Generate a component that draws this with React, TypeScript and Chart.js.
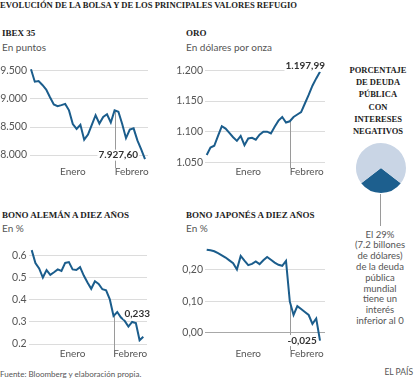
import React, { useEffect, useRef } from "react";
import { Chart, registerables } from "chart.js";
Chart.register(...registerables);

// ---------- DATA ----------
const MONTH_LABELS = ["Enero", "Febrero"];
const MONTH_TICK_INDEX = [11, 26.5];
const MARKER_INDEX = 22;

const IBEX_VALUES = [9530, 9308, 9320, 9250, 9169, 9030, 8902, 8872, 8890, 8912, 8797, 8553, 8466, 8541, 8274, 8366, 8540, 8710, 8563, 8680, 8727, 8581, 8797, 8773, 8553, 8302, 8453, 8476, 8262, 8100, 7927.6];
const IBEX_TICKS = [8000, 8500, 9000, 9500];
const IBEX_TICK_LABELS = ["8.000", "8.500", "9.000", "9.500"];

const GOLD_VALUES = [1062, 1074, 1077, 1093, 1109, 1105, 1098, 1091, 1085, 1093, 1078, 1089, 1090, 1087, 1095, 1100, 1100, 1097, 1108, 1118, 1124, 1115, 1117, 1124, 1128, 1132, 1146, 1160, 1175, 1187, 1197.99];
const GOLD_TICKS = [1050, 1100, 1150, 1200];
const GOLD_TICK_LABELS = ["1.050", "1.100", "1.150", "1.200"];

const BUND_VALUES = [0.625, 0.567, 0.542, 0.501, 0.535, 0.513, 0.525, 0.538, 0.531, 0.567, 0.571, 0.538, 0.535, 0.548, 0.51, 0.479, 0.45, 0.484, 0.472, 0.448, 0.443, 0.402, 0.327, 0.345, 0.32, 0.305, 0.279, 0.3, 0.295, 0.217, 0.233];
const BUND_TICKS = [0.2, 0.3, 0.4, 0.5, 0.6];
const BUND_TICK_LABELS = ["0.2", "0.3", "0.4", "0.5", "0.6"];

const JGB_VALUES = [0.263, 0.261, 0.258, 0.252, 0.245, 0.238, 0.229, 0.22, 0.2, 0.243, 0.228, 0.214, 0.218, 0.2255, 0.217, 0.2295, 0.24, 0.231, 0.222, 0.215, 0.212, 0.2277, 0.099, 0.056, 0.084, 0.075, 0.0655, 0.056, 0.028, 0.045, -0.025];
const JGB_TICKS = [0, 0.1, 0.2];
const JGB_TICK_LABELS = ["0,00", "0,10", "0,20"];

const PIE_VALUES = [29, 71];

// ---------- STYLE ----------
const BLUE = "#1b5d8c";
const PIE_DARK = "#1d5f8e";
const PIE_LIGHT = "#c9d5e5";
const GRID = "#dcdcdc";
const TICK_COLOR = "#555";
const SANS = "Lato, 'Open Sans', sans-serif";
const SERIF = "'Liberation Serif', 'DejaVu Serif', serif";

function fmtEs(v: number, dec: number): string {
  const neg = v < 0;
  const s = Math.abs(v).toFixed(dec);
  const [ip, dp] = s.split(".");
  const withDots = ip.replace(/\B(?=(\d{3})+(?!\d))/g, ".");
  return (neg ? "-" : "") + withDots + (dp ? "," + dp : "");
}

type PanelCfg = {
  rect: { left: number; top: number; w: number; h: number };
  areaLeft: number;
  areaRight: number;
  dataStartPx: number;
  dataEndPx: number;
  tickA: [number, number];
  tickB: [number, number];
  yMin: number;
  yMax: number;
  values: number[];
  ticks: number[];
  tickLabels: string[];
  tickPadding: number;
  monthLabelY: number;
  endLabel: string;
  labelDx: number;
  labelDy: number;
  zeroLine?: boolean;
};

function LinePanel({ cfg }: { cfg: PanelCfg }) {
  const ref = useRef<HTMLCanvasElement | null>(null);
  useEffect(() => {
    if (!ref.current) return;
    const { rect, values } = cfg;
    const n = values.length;
    const k = (cfg.tickB[1] - cfg.tickA[1]) / (cfg.tickB[0] - cfg.tickA[0]);
    const areaTop = cfg.tickA[1] + (cfg.yMax - cfg.tickA[0]) * k;
    const areaBottom = cfg.tickA[1] + (cfg.yMin - cfg.tickA[0]) * k;
    const s = (cfg.dataEndPx - cfg.dataStartPx) / (n - 1);
    const xMin = -(cfg.dataStartPx - cfg.areaLeft) / s;
    const xMax = n - 1 + (cfg.areaRight - cfg.dataEndPx) / s;

    const overlay = {
      id: "overlay",
      beforeDatasetsDraw(chart: any) {
        const { ctx, scales } = chart;
        const px = Math.round(scales.x.getPixelForValue(MARKER_INDEX)) + 0.5;
        const py = scales.y.getPixelForValue(values[MARKER_INDEX]);
        ctx.save();
        ctx.strokeStyle = "#9a9a9a";
        ctx.lineWidth = 1;
        ctx.beginPath();
        ctx.moveTo(px, py);
        ctx.lineTo(px, cfg.monthLabelY - 4 - rect.top);
        ctx.stroke();
        ctx.restore();
      },
      afterDatasetsDraw(chart: any) {
        const { ctx, scales } = chart;
        const ex = scales.x.getPixelForValue(n - 1);
        const ey = scales.y.getPixelForValue(values[n - 1]);
        const right = ex + cfg.labelDx;
        const cy = ey + cfg.labelDy;
        ctx.save();
        ctx.font = `bold 10px ${SANS}`;
        const w = ctx.measureText(cfg.endLabel).width;
        ctx.fillStyle = "#fff";
        ctx.fillRect(right - w - 1, cy - 5.5, w + 2, 11);
        ctx.fillStyle = "#333";
        ctx.textAlign = "right";
        ctx.textBaseline = "middle";
        ctx.fillText(cfg.endLabel, right, cy);
        ctx.restore();
      },
    };

    const chart = new Chart(ref.current, {
      type: "line",
      data: {
        datasets: [
          {
            data: values.map((v, i) => ({ x: i, y: v })),
            borderColor: BLUE,
            borderWidth: 2,
            pointRadius: 0,
            tension: 0,
            fill: false,
          },
        ],
      },
      options: {
        animation: false,
        responsive: false,
        layout: {
          padding: {
            top: areaTop - rect.top,
            right: rect.left + rect.w - cfg.areaRight,
            left: 0,
            bottom: 0,
          },
        },
        plugins: { legend: { display: false }, tooltip: { enabled: false } },
        scales: {
          x: {
            type: "linear",
            min: xMin,
            max: xMax,
            grid: { display: false, drawTicks: false, tickLength: 0 },
            border: { display: false },
            afterFit: (sc: any) => {
              sc.height = rect.top + rect.h - areaBottom;
            },
            afterBuildTicks: (sc: any) => {
              sc.ticks = MONTH_TICK_INDEX.map((v) => ({ value: v }));
            },
            ticks: {
              autoSkip: false,
              maxRotation: 0,
              padding: cfg.monthLabelY - areaBottom - 6,
              color: TICK_COLOR,
              font: { family: SANS, size: 10 },
              callback: (_v: any, i: number) => MONTH_LABELS[i],
            },
          },
          y: {
            type: "linear",
            min: cfg.yMin,
            max: cfg.yMax,
            border: { display: false },
            grid: {
              drawTicks: false,
              tickLength: 0,
              lineWidth: 1,
              color: (c: any) =>
                cfg.zeroLine && c.tick && Math.abs(c.tick.value) < 1e-9 ? "#a8a8a8" : GRID,
            },
            afterFit: (sc: any) => {
              sc.width = cfg.areaLeft - rect.left;
            },
            afterBuildTicks: (sc: any) => {
              sc.ticks = cfg.ticks.map((v) => ({ value: v }));
            },
            ticks: {
              padding: cfg.tickPadding,
              color: TICK_COLOR,
              font: { family: SANS, size: 10.5 },
              callback: (_v: any, i: number) => cfg.tickLabels[i],
            },
          },
        },
      } as any,
      plugins: [overlay],
    });
    return () => chart.destroy();
  }, [cfg]);
  return (
    <canvas
      ref={ref}
      width={cfg.rect.w}
      height={cfg.rect.h}
      style={{
        position: "absolute",
        left: cfg.rect.left,
        top: cfg.rect.top,
        width: cfg.rect.w,
        height: cfg.rect.h,
      }}
    />
  );
}

function PiePanel() {
  const ref = useRef<HTMLCanvasElement | null>(null);
  useEffect(() => {
    if (!ref.current) return;
    const chart = new Chart(ref.current, {
      type: "pie",
      data: {
        labels: ["Negativo", "Resto"],
        datasets: [
          {
            data: PIE_VALUES,
            backgroundColor: [PIE_DARK, PIE_LIGHT],
            borderWidth: 0,
          },
        ],
      },
      options: {
        animation: false,
        responsive: false,
        rotation: 180 - (PIE_VALUES[0] * 3.6) / 2,
        plugins: { legend: { display: false }, tooltip: { enabled: false } },
        layout: { padding: 0 },
      } as any,
    });
    return () => chart.destroy();
  }, []);
  return (
    <canvas
      ref={ref}
      width={50}
      height={50}
      style={{ position: "absolute", left: 356, top: 143, width: 50, height: 50 }}
    />
  );
}

const PANELS: PanelCfg[] = [
  {
    rect: { left: 0, top: 56, w: 156, h: 126 },
    areaLeft: 30,
    areaRight: 148,
    dataStartPx: 31,
    dataEndPx: 145,
    tickA: [8000, 155],
    tickB: [9500, 70],
    yMin: 7850,
    yMax: 9600,
    values: IBEX_VALUES,
    ticks: IBEX_TICKS,
    tickLabels: IBEX_TICK_LABELS,
    tickPadding: 3,
    monthLabelY: 172,
    endLabel: fmtEs(IBEX_VALUES[IBEX_VALUES.length - 1], 2),
    labelDx: -7,
    labelDy: -4,
  },
  {
    rect: { left: 172, top: 56, w: 158, h: 126 },
    areaLeft: 205,
    areaRight: 325,
    dataStartPx: 206.7,
    dataEndPx: 320,
    tickA: [1050, 162.3],
    tickB: [1200, 70],
    yMin: 1045,
    yMax: 1210,
    values: GOLD_VALUES,
    ticks: GOLD_TICKS,
    tickLabels: GOLD_TICK_LABELS,
    tickPadding: 2,
    monthLabelY: 172,
    endLabel: fmtEs(GOLD_VALUES[GOLD_VALUES.length - 1], 2),
    labelDx: 5,
    labelDy: -5.5,
  },
  {
    rect: { left: 0, top: 236, w: 156, h: 126 },
    areaLeft: 29,
    areaRight: 147,
    dataStartPx: 31.7,
    dataEndPx: 143.3,
    tickA: [0.2, 344],
    tickB: [0.6, 252.3],
    yMin: 0.19,
    yMax: 0.65,
    values: BUND_VALUES,
    ticks: BUND_TICKS,
    tickLabels: BUND_TICK_LABELS,
    tickPadding: 2.3,
    monthLabelY: 354,
    endLabel: fmtEs(BUND_VALUES[BUND_VALUES.length - 1], 3),
    labelDx: 6.7,
    labelDy: -23,
  },
  {
    rect: { left: 172, top: 236, w: 158, h: 126 },
    areaLeft: 205,
    areaRight: 325,
    dataStartPx: 206.7,
    dataEndPx: 320,
    tickA: [0, 332.3],
    tickB: [0.2, 267.3],
    yMin: -0.04,
    yMax: 0.28,
    values: JGB_VALUES,
    ticks: JGB_TICKS,
    tickLabels: JGB_TICK_LABELS,
    tickPadding: 2,
    monthLabelY: 354,
    endLabel: fmtEs(JGB_VALUES[JGB_VALUES.length - 1], 3),
    labelDx: -3.3,
    labelDy: 0,
    zeroLine: true,
  },
];

function Txt({
  x,
  y,
  children,
  size = 10,
  bold = false,
  serif = false,
  color = "#444",
  align = "left",
  width,
}: any) {
  const lh = size * 1.3;
  const style: any = {
    position: "absolute",
    top: y - lh / 2,
    fontSize: size,
    lineHeight: lh + "px",
    fontFamily: serif ? SERIF : SANS,
    fontWeight: bold ? 700 : 400,
    color,
    whiteSpace: "nowrap",
  };
  if (align === "left") style.left = x;
  else if (align === "right") style.right = 414 - x;
  else {
    style.left = x - (width || 100) / 2;
    style.width = width || 100;
    style.textAlign = "center";
  }
  return <div style={style}>{children}</div>;
}

export default function App() {
  return (
    <div
      style={{
        position: "absolute",
        left: 0,
        top: 0,
        width: 414,
        height: 379,
        background: "#fff",
        overflow: "hidden",
      }}
    >
      <Txt x={0} y={5.7} size={8.6} bold serif color="#222">
        EVOLUCIÓN DE LA BOLSA Y DE LOS PRINCIPALES VALORES REFUGIO
      </Txt>

      <Txt x={2} y={34.3} size={9} bold serif color="#222">IBEX 35</Txt>
      <Txt x={2} y={47.7} size={10} color="#555">En puntos</Txt>
      <Txt x={186} y={34.3} size={9} bold serif color="#222">ORO</Txt>
      <Txt x={186} y={47.7} size={10} color="#555">En dólares por onza</Txt>
      <Txt x={2} y={215.7} size={9} bold serif color="#222">BONO ALEMÁN A DIEZ AÑOS</Txt>
      <Txt x={2} y={228.3} size={10} color="#555">En %</Txt>
      <Txt x={186} y={215.7} size={9} bold serif color="#222">BONO JAPONÉS A DIEZ AÑOS</Txt>
      <Txt x={186} y={228.3} size={10} color="#555">En %</Txt>

      {PANELS.map((p, i) => (
        <LinePanel key={i} cfg={p} />
      ))}

      <div
        style={{
          position: "absolute",
          left: 338,
          width: 80,
          top: 63.9,
          textAlign: "center",
          fontFamily: SERIF,
          fontWeight: 700,
          fontSize: 8.5,
          lineHeight: "12.2px",
          color: "#222",
        }}
      >
        PORCENTAJE
        <br />
        DE DEUDA
        <br />
        PÚBLICA
        <br />
        CON
        <br />
        INTERESES
        <br />
        NEGATIVOS
      </div>

      <PiePanel />
      <div
        style={{ position: "absolute", left: 380, top: 194, width: 1, height: 32, background: "#9a9a9a" }}
      />
      <div
        style={{
          position: "absolute",
          left: 340,
          width: 80,
          top: 229.6,
          textAlign: "center",
          fontFamily: SANS,
          fontSize: 9.5,
          lineHeight: "10.8px",
          color: "#555",
        }}
      >
        El 29%
        <br />
        (7.2 billones
        <br />
        de dólares)
        <br />
        de la deuda
        <br />
        pública
        <br />
        mundial
        <br />
        tiene un
        <br />
        interés
        <br />
        inferior al 0
      </div>

      <Txt x={0} y={374} size={8} color="#555">Fuente: Bloomberg y elaboración propia.</Txt>
      <Txt x={413} y={373} size={8.5} color="#555" align="right">EL PAÍS</Txt>
    </div>
  );
}
